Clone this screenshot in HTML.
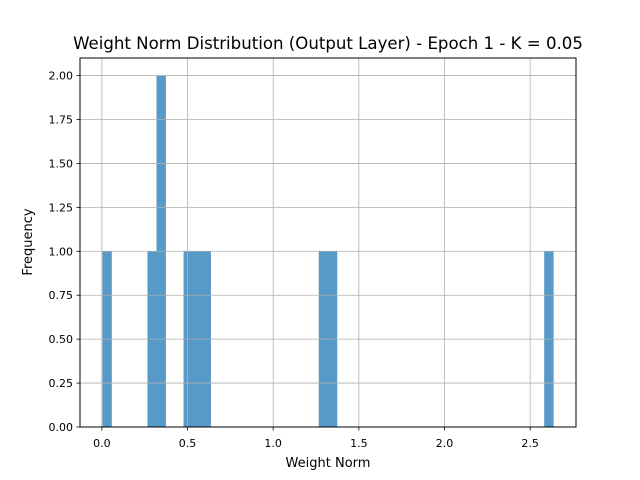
<!DOCTYPE html>
<html><head><meta charset="utf-8"><style>
body{margin:0;background:#fff;}
svg{display:block;font-family:"DejaVu Sans","Liberation Sans",sans-serif;}
</style></head><body>
<svg id="chart" width="640" height="480" viewBox="0 0 640 480">
<rect width="640" height="480" fill="#fff"/>
<g id="bars"></g>
<g id="grid"></g>
<rect x="80" y="58" width="496" height="369" fill="none" stroke="#000" stroke-width="1"/>
<g id="xticks"></g>
<g id="yticks"></g>
<text x="328" y="49" font-size="16.6" text-anchor="middle">Weight Norm Distribution (Output Layer) - Epoch 1 - K = 0.05</text>
<text x="328" y="467" font-size="13" text-anchor="middle">Weight Norm</text>
<text x="32" y="242" font-size="13" text-anchor="middle" transform="rotate(-90 32 242)">Frequency</text>
</svg>
<script>
const values = [0.004, 0.30, 0.35, 0.36, 0.52, 0.57, 0.62, 1.30, 1.35, 2.636];
const binCount = 50;
const xTickLabels = ["0.0","0.5","1.0","1.5","2.0","2.5"];
const xTickValues = [0, 0.5, 1.0, 1.5, 2.0, 2.5];
const yTickValues = [0, 0.25, 0.5, 0.75, 1.0, 1.25, 1.5, 1.75, 2.0];
const yTickLabels = ["0.00","0.25","0.50","0.75","1.00","1.25","1.50","1.75","2.00"];

const NS = "http://www.w3.org/2000/svg";
const L=80,R=576,T=58,B=427;
const mn=Math.min(...values), mx=Math.max(...values);
const bw=(mx-mn)/binCount;
const counts=new Array(binCount).fill(0);
values.forEach(v=>{let i=Math.floor((v-mn)/bw); if(i>=binCount)i=binCount-1; counts[i]++;});
const maxC=Math.max(...counts);
const xMin=mn-0.05*(mx-mn), xMax=mx+0.05*(mx-mn);
const X=v=>L+(v-xMin)/(xMax-xMin)*(R-L);
const yMax=maxC*1.05;
const Y=v=>B-v/yMax*(B-T);
function mk(tag,attrs,parent){const e=document.createElementNS(NS,tag);for(const k in attrs)e.setAttribute(k,attrs[k]);parent.appendChild(e);return e;}
const bars=document.getElementById('bars');
counts.forEach((c,i)=>{ if(!c) return;
  const x0=X(mn+i*bw), x1=X(mn+(i+1)*bw);
  const r=mk('rect',{x:x0,y:Y(c),width:x1-x0,height:B-Y(c),fill:'#5799c7',stroke:'#5799c7','stroke-width':0.4},bars);
  
  
});
const grid=document.getElementById('grid'), xt=document.getElementById('xticks'), yt=document.getElementById('yticks');
xTickValues.forEach((v,i)=>{const x=X(v);
  const g=mk('line',{x1:x,x2:x,y1:T,y2:B,stroke:'#b0b0b0','stroke-width':0.8},grid);
  
  
  mk('line',{x1:x,x2:x,y1:B,y2:B+3.5,stroke:'#000','stroke-width':0.8},xt);
  const t=mk('text',{x:x,y:B+20,'font-size':11,'text-anchor':'middle'},xt);
  t.textContent=xTickLabels[i];
  
  
});
yTickValues.forEach((v,i)=>{const y=Y(v);
  const g=mk('line',{x1:L,x2:R,y1:y,y2:y,stroke:'#b0b0b0','stroke-width':0.8},grid);
  
  
  mk('line',{x1:L-3.5,x2:L,y1:y,y2:y,stroke:'#000','stroke-width':0.8},yt);
  const t=mk('text',{x:L-7,y:y+4,'font-size':11,'text-anchor':'end'},yt);
  t.textContent=yTickLabels[i];
  
  
});
</script>
</body></html>
